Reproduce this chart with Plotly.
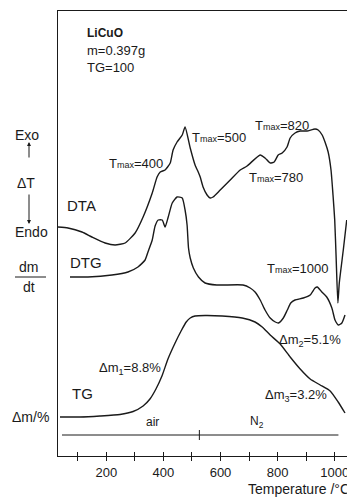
import plotly.graph_objects as go

# ---------------- data (temperature in °C, signal in arbitrary units) ----------------
dta_T = [31, 66, 115, 150, 196, 231, 266, 301, 329, 361,
         378, 389, 406, 424, 434, 448, 466, 476, 494, 511,
         522, 529, 539, 553, 564, 574, 599, 634, 669, 693,
         739, 756, 774, 788, 802, 816, 833, 844, 861, 879,
         903, 931, 942, 956, 966, 977, 987, 994, 1000, 1005,
         1011, 1016, 1030, 1042]
dta_signal = [229, 228, 224, 219, 213, 211, 213, 223, 239, 263,
              279, 284, 286, 293, 306, 314, 321, 329, 308, 291,
              284, 279, 269, 261, 258, 259, 266, 276, 286, 290,
              301, 298, 293, 294, 301, 303, 309, 318, 323, 325,
              325, 327, 326, 321, 314, 304, 286, 261, 236, 198,
              153, 173, 206, 236]

dtg_T = [73, 136, 220, 276, 311, 336, 346, 361, 371, 382,
         396, 406, 417, 431, 448, 466, 476, 483, 488, 494,
         505, 523, 546, 587, 679, 704, 721, 739, 756, 774,
         792, 803, 820, 834, 846, 861, 890, 914, 931, 939,
         955, 972, 990, 1001, 1013, 1025, 1036]
dtg_signal = [179, 179, 181, 184, 189, 196, 204, 216, 230, 236,
              236, 229, 239, 253, 259, 258, 246, 231, 208, 198,
              188, 179, 173, 171, 171, 168, 164, 156, 146, 138,
              134, 133, 138, 146, 153, 156, 158, 161, 168, 169,
              164, 159, 148, 136, 131, 133, 141]

tg_T = [38, 108, 178, 248, 294, 329, 353, 374, 395, 416,
        441, 462, 480, 494, 511, 546, 606, 676, 721, 746,
        774, 809, 844, 879, 914, 949, 984, 1012, 1036]
tg_signal = [39, 39, 40, 41.5, 44.5, 50, 57, 67, 80, 97,
             113, 125, 134, 138, 140, 140.5, 140, 138, 134, 129,
             121, 112, 99, 87, 77, 71, 65, 54, 43]

major_ticks = [200, 400, 600, 800, 1000]
minor_ticks = [100, 300, 500, 700, 900]
all_ticks = [100, 200, 300, 400, 500, 600, 700, 800, 900, 1000]

atmosphere_T = [45, 526, 1013]     # start, switch air -> N2, end
atmosphere_level = 21
x_range = [31, 1050]
y_range = [0, 445]

FONT = "Liberation Sans, Arial, Helvetica, sans-serif"
INK = "#1a1a1a"

fig = go.Figure()
for T, s, xa in [(dta_T, dta_signal, "x"), (dtg_T, dtg_signal, "x2"), (tg_T, tg_signal, "x")]:
    fig.add_trace(go.Scatter(x=T, y=s, mode="lines", xaxis=xa,
                             line=dict(color=INK, width=1.4, shape="spline", smoothing=0.5),
                             showlegend=False, hoverinfo="skip"))

# atmosphere bar
fig.add_shape(type="line", x0=atmosphere_T[0], x1=atmosphere_T[2], y0=atmosphere_level, y1=atmosphere_level,
              line=dict(color=INK, width=1))
fig.add_shape(type="line", x0=atmosphere_T[1], x1=atmosphere_T[1], y0=atmosphere_level - 5, y1=atmosphere_level + 5,
              line=dict(color=INK, width=1))

def tmax(v):
    return "T<span style='font-size:9px'>max</span>=" + str(v)

anns = [
    ("<b>LiCuO</b>", 126, 423, "left", 12),
    ("m=0.397g", 126, 406, "left", 13),
    ("TG=100", 126, 389, "left", 13),
    (tmax(400), 406, 293, "right", 13),
    (tmax(500), 494, 319, "left", 13),
    (tmax(820), 714, 331, "left", 13),
    (tmax(780), 693, 279, "left", 13),
    (tmax(1000), 756, 188, "left", 13),
    ("Δm<sub>1</sub>=8.8%", 168, 88, "left", 13),
    ("Δm<sub>2</sub>=5.1%", 798, 116, "left", 13),
    ("Δm<sub>3</sub>=3.2%", 749, 61, "left", 13),
    ("DTA", 55, 251, "left", 15),
    ("DTG", 66, 194, "left", 15),
    ("TG", 73, 63, "left", 15),
    ("air", 361, 34, "center", 12),
    ("N<sub>2</sub>", 728, 34, "center", 12),
]
for txt, x, y, xa, fs in anns:
    fig.add_annotation(text=txt, x=x, y=y, xref="x", yref="y", xanchor=xa, yanchor="middle",
                       showarrow=False, font=dict(family=FONT, size=fs, color=INK))

# labels outside the plot (paper coordinates, page pixels -> paper)
def px2paper(px, py):
    return (px - 58) / 291, (456 - py) / 445

side = [
    ("Exo", 27, 135, 14),
    ("ΔT", 26, 183, 14),
    ("Endo", 31, 232, 14),
    ("dm", 29, 267, 14),
    ("dt", 29, 287, 14),
    ("Δm/%", 30, 417, 14),
]
for txt, px, py, fs in side:
    x, y = px2paper(px, py)
    fig.add_annotation(text=txt, x=x, y=y, xref="paper", yref="paper", xanchor="center", yanchor="middle",
                       showarrow=False, font=dict(family=FONT, size=fs, color=INK))

# arrows
for (hx, hy, tail) in [(29, 142, 17), (29, 224, -31)]:
    x, y = px2paper(hx, hy)
    fig.add_annotation(text="", x=x, y=y, xref="paper", yref="paper", ax=0, ay=tail,
                       showarrow=True, arrowhead=2, arrowsize=0.8, arrowwidth=1, arrowcolor=INK)

# fraction bar
fx0, fy = px2paper(15, 277)
fx1, _ = px2paper(46, 277)
fig.add_shape(type="line", xref="paper", yref="paper", x0=fx0, x1=fx1, y0=fy, y1=fy,
              line=dict(color=INK, width=1))

# axis title
x, y = px2paper(352, 489)
fig.add_annotation(text="Temperature /°C", x=x, y=y, xref="paper", yref="paper", xanchor="right",
                   yanchor="middle", showarrow=False, font=dict(family=FONT, size=14, color=INK))

# page body has an 8px margin, so the figure is 8px smaller and shifted accordingly
fig.update_layout(
    width=347, height=489,
    margin=dict(l=50, r=6, t=3, b=41),
    paper_bgcolor="white", plot_bgcolor="white",
    font=dict(family=FONT, color=INK),
    xaxis=dict(range=x_range, showline=True, mirror=True, linecolor=INK, linewidth=1,
               ticks="outside", ticklen=4, tickcolor=INK, tickwidth=1,
               tickvals=major_ticks, ticktext=[str(v) for v in major_ticks],
               tickfont=dict(family=FONT, size=13, color=INK),
               minor=dict(tickvals=minor_ticks, ticks="outside", ticklen=4, tickcolor=INK, tickwidth=1),
               showgrid=False, zeroline=False),
    xaxis2=dict(range=x_range, overlaying="x", side="bottom", ticks="inside", ticklen=4,
                tickcolor=INK, tickwidth=1, tickvals=all_ticks, showticklabels=False,
                showline=False, showgrid=False, zeroline=False),
    yaxis=dict(range=y_range, showline=True, mirror=True, linecolor=INK, linewidth=1,
               ticks="", showticklabels=False, showgrid=False, zeroline=False),
)

fig.write_html("out.html")
